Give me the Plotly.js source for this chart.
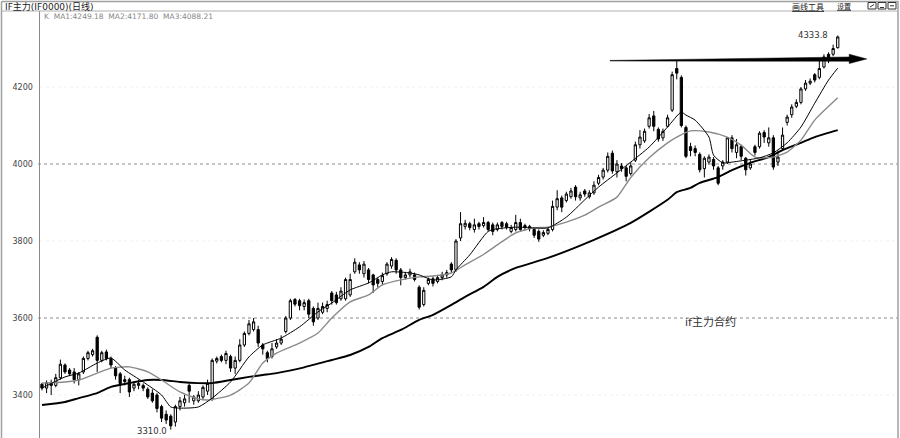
<!DOCTYPE html>
<html>
<head>
<meta charset="utf-8">
<script src="https://cdn.plot.ly/plotly-3.0.1.min.js"></script>
<style>
html,body{margin:0;padding:0;background:#fff;}
#chart{width:900px;height:438px;}
</style>
</head>
<body>
<div id="chart"></div>
<script>
// ---- data (IF主力 daily candles) ----
const openP = [3428,3418,3430,3425,3445,3478,3465,3460,3440,3460,3495,3505,3550,3490,3512,3495,3470,3455,3440,3440,
3418,3425,3425,3415,3405,3400,3370,3350,3345,3330,3370,3380,3425,3385,3385,3395,3410,3390,3488,3500,
3490,3500,3470,3490,3530,3560,3570,3570,3530,3510,3500,3525,3535,3565,3600,3648,3645,3630,3645,3625,
3600,3615,3625,3665,3660,3650,3650,3660,3720,3738,3715,3725,3712,3700,3695,3715,3735,3750,3725,3705,
3712,3712,3680,3635,3690,3702,3695,3705,3712,3740,3725,3808,3838,3845,3830,3845,3840,3848,3842,3830,
3848,3845,3825,3830,3848,3840,3832,3830,3825,3815,3820,3830,3888,3912,3905,3915,3940,3912,3930,3915,
3925,3950,3966,3984,4028,3980,3995,3990,3975,4010,4050,4060,4098,4125,4090,4068,4098,4140,4248,4225,
4095,4045,4040,4025,3988,4005,4012,3990,3995,4005,4068,4030,4045,4015,3990,4045,4045,4082,4055,4068,
4005,4040,4108,4128,4150,4160,4195,4210,4232,4225,4252,4285,4285,4302];
const highP = [3432,3438,3440,3455,3492,3482,3470,3470,3460,3500,3515,3520,3555,3515,3518,3500,3475,3460,3450,3445,
3435,3440,3430,3420,3415,3405,3375,3360,3350,3375,3395,3400,3430,3400,3410,3425,3440,3495,3500,3505,
3515,3505,3500,3545,3565,3595,3600,3580,3535,3515,3535,3545,3555,3605,3650,3652,3650,3648,3650,3630,
3640,3640,3645,3670,3668,3680,3705,3715,3755,3745,3748,3730,3715,3705,3718,3745,3758,3755,3730,3720,
3728,3718,3685,3680,3705,3708,3712,3720,3725,3745,3805,3875,3855,3850,3858,3850,3862,3852,3848,3848,
3852,3850,3842,3868,3858,3845,3842,3835,3830,3828,3835,3905,3932,3918,3928,3938,3945,3928,3935,3932,
3955,3972,3990,4030,4035,4010,4002,3995,4005,4058,4088,4092,4130,4138,4095,4092,4128,4240,4268,4230,
4100,4055,4048,4030,4020,4025,4018,3995,4010,4070,4075,4065,4050,4018,4010,4050,4085,4088,4095,4075,
4035,4095,4128,4155,4168,4200,4218,4222,4236,4268,4285,4290,4310,4333.8];
const lowP = [3412,3405,3400,3420,3440,3455,3450,3430,3425,3455,3490,3500,3460,3485,3490,3470,3440,3405,3425,3395,
3410,3415,3410,3390,3380,3355,3330,3325,3310,3318,3360,3370,3380,3375,3380,3388,3400,3385,3482,3485,
3480,3460,3455,3485,3525,3555,3565,3525,3505,3485,3495,3520,3530,3560,3595,3630,3620,3620,3600,3580,
3595,3610,3615,3635,3635,3645,3645,3655,3715,3715,3705,3690,3665,3680,3685,3710,3728,3715,3685,3700,
3705,3695,3622,3630,3685,3682,3690,3698,3705,3718,3720,3800,3830,3828,3822,3830,3835,3825,3815,3825,
3830,3830,3820,3825,3825,3828,3825,3808,3798,3810,3815,3825,3880,3875,3900,3910,3905,3905,3915,3910,
3920,3945,3960,3978,3975,3965,3980,3955,3970,4005,4040,4055,4092,4085,4058,4060,4095,4135,4220,4095,
4015,4020,4020,3978,3965,3998,3985,3945,3985,4000,4030,4015,4010,3970,3985,4022,4040,4055,4045,3985,
3995,4035,4100,4120,4145,4155,4190,4205,4212,4220,4248,4262,4280,4300];
const closeP = [3418,3432,3425,3445,3480,3460,3455,3440,3455,3495,3510,3515,3490,3510,3495,3478,3450,3430,3435,3408,
3428,3430,3418,3395,3385,3365,3340,3335,3320,3370,3385,3390,3410,3395,3400,3420,3430,3490,3495,3490,
3508,3470,3490,3530,3560,3585,3590,3535,3520,3495,3520,3535,3545,3600,3645,3636,3632,3640,3610,3590,
3625,3630,3635,3645,3640,3670,3700,3700,3745,3725,3740,3700,3686,3690,3710,3740,3752,3725,3705,3712,
3720,3700,3628,3672,3700,3690,3705,3712,3718,3725,3800,3845,3846,3835,3842,3838,3848,3830,3825,3842,
3838,3836,3835,3848,3830,3835,3838,3815,3805,3822,3830,3890,3910,3888,3922,3930,3915,3920,3922,3925,
3945,3965,3984,4020,3982,4000,3988,3968,3995,4050,4070,4085,4120,4098,4065,4085,4120,4232,4236,4100,
4020,4035,4030,3985,4015,4018,3995,3950,4005,4068,4040,4050,4020,3985,4000,4030,4080,4070,4068,3992,
4018,4075,4122,4148,4160,4195,4210,4215,4218,4248,4278,4270,4300,4330];

// moving averages, sampled at candle positions
const ma1Idx = [0,5,8,12,15,18,22,26,28,30,34,37,41,45,48,52,56,60,63,67,71,74,76,80,82,85,89,90,93,97,99,103,107,110,114,118,121,125,128,132,136,139,140,142,145,146,148,150,153,156,159,162,165,168,171,173];
const ma1Val = [3418,3447,3457,3483,3496,3465,3434,3400,3369,3366,3369,3392,3434,3499,3530,3548,3577,3616,3639,3673,3691,3712,3720,3717,3712,3699,3707,3725,3764,3825,3832,3836,3834,3834,3862,3907,3940,3977,4005,4044,4096,4135,4127,4114,4070,4023,4003,4005,4010,4016,4029,4055,4096,4158,4218,4249];
const ma2Idx = [0,5,8,12,15,19,23,26,30,34,36,41,45,48,51,56,60,63,67,71,74,78,82,85,89,92,96,99,103,107,110,114,118,121,125,128,132,136,138,141,145,149,152,155,159,162,165,168,173];
const ma2Val = [3431,3434,3439,3457,3470,3473,3460,3439,3408,3390,3387,3400,3431,3483,3509,3535,3561,3600,3642,3660,3686,3699,3707,3709,3717,3738,3765,3790,3821,3834,3836,3849,3867,3888,3914,3965,4016,4055,4070,4086,4083,4070,4049,4018,4018,4031,4062,4114,4171.8];
const ma3Idx = [0,5,8,12,15,19,23,26,30,34,37,41,45,48,51,57,63,67,71,74,78,82,85,89,92,96,99,103,110,120,128,136,138,141,143,147,150,154,158,161,165,168,173];
const ma3Val = [3374,3382,3392,3405,3421,3431,3439,3439,3434,3431,3431,3439,3447,3452,3457,3472,3491,3504,3525,3548,3569,3595,3608,3634,3655,3681,3707,3730,3756,3803,3847,3907,3927,3938,3951,3966,3984,4003,4018,4036,4055,4070,4088.2];

const yTicks = [3400, 3600, 3800, 4000, 4200];
const yTickText = ['3400', '3600', '3800', '4000', '4200'];
const headerTitle = 'IF主力(IF0000)(日线)';
const maInfo = 'K  MA1:4249.18  MA2:4171.80  MA3:4088.21';
const highLabel = '4333.8';
const lowLabel = '3310.0';
const noteText = 'if主力合约';

// ---- chart ----
const xs = openP.map((_, i) => i);
const FONT = 'DejaVu Sans, Noto Sans CJK SC, sans-serif';

const traces = [
  {
    type: 'candlestick', x: xs, open: openP, high: highP, low: lowP, close: closeP,
    increasing: {line: {color: '#000', width: 1}, fillcolor: '#fff'},
    decreasing: {line: {color: '#000', width: 1}, fillcolor: '#000'},
    whiskerwidth: 0, hoverinfo: 'skip', showlegend: false
  },
  {type: 'scatter', mode: 'lines', x: ma3Idx, y: ma3Val, line: {color: '#000', width: 1.9, shape: 'spline', smoothing: 0.6}, hoverinfo: 'skip'},
  {type: 'scatter', mode: 'lines', x: ma2Idx, y: ma2Val, line: {color: '#8a8a8a', width: 1.4, shape: 'spline', smoothing: 0.6}, hoverinfo: 'skip'},
  {type: 'scatter', mode: 'lines', x: ma1Idx, y: ma1Val, line: {color: '#000', width: 1, shape: 'spline', smoothing: 0.6}, hoverinfo: 'skip'}
];

const W = 858, H = 427, L = 40, T = 11;
const px = v => (v - L) / W;          // pixel x -> paper
const py = v => (T + H - v) / H;      // pixel y -> paper

const last = xs.length - 1;
let lowIdx = 0;
lowP.forEach((v, i) => { if (v < lowP[lowIdx]) lowIdx = i; });
let peakIdx = 0;
highP.forEach((v, i) => { if (i < 150 && v > highP[peakIdx]) peakIdx = i; });
const peakVal = highP[peakIdx];

const shapes = [
  // outer frame
  {type: 'line', xref: 'paper', yref: 'paper', x0: px(1.5), x1: px(898.5), y0: py(1.5), y1: py(1.5), line: {color: '#a0a0a0', width: 1.5}},
  {type: 'line', xref: 'paper', yref: 'paper', x0: px(1.5), x1: px(1.5), y0: py(1.5), y1: 0, line: {color: '#a0a0a0', width: 1.5}},
  {type: 'line', xref: 'paper', yref: 'paper', x0: 1, x1: 1, y0: py(1.5), y1: 0, line: {color: '#a0a0a0', width: 1.5}},
  {type: 'line', xref: 'paper', yref: 'paper', x0: px(1.5), x1: 1, y0: 1, y1: 1, line: {color: '#b0b0b0', width: 1}},
  // grid
  {type: 'line', xref: 'paper', yref: 'y', x0: px(38), x1: 1, y0: 4000, y1: 4000, line: {color: '#8c8c8c', width: 1, dash: '3px,3px'}, layer: 'below'},
  {type: 'line', xref: 'paper', yref: 'y', x0: px(38), x1: 1, y0: 3600, y1: 3600, line: {color: '#8c8c8c', width: 1, dash: '3px,3px'}, layer: 'below'},
  {type: 'line', xref: 'paper', yref: 'y', x0: 0, x1: 1, y0: 4200, y1: 4200, line: {color: '#f1f1f1', width: 1, dash: 'dot'}, layer: 'below'},
  {type: 'line', xref: 'paper', yref: 'y', x0: 0, x1: 1, y0: 3800, y1: 3800, line: {color: '#f1f1f1', width: 1, dash: 'dot'}, layer: 'below'},
  {type: 'line', xref: 'paper', yref: 'y', x0: 0, x1: 1, y0: 3400, y1: 3400, line: {color: '#f1f1f1', width: 1, dash: 'dot'}, layer: 'below'},
  // tapered arrow at the previous high
  {type: 'path', xref: 'x', yref: 'y', fillcolor: '#000', line: {color: '#000', width: 0.5},
   path: `M 123.5 ${peakVal + 1} L 175.5 ${peakVal + 10} L 175.5 ${peakVal + 17} L 179.3 ${peakVal + 5} L 175.5 ${peakVal - 7} L 175.5 ${peakVal - 1} L 123.5 ${peakVal - 0.5} Z`},
  // small toolbar icons
  {type: 'rect', xref: 'paper', yref: 'paper', x0: px(868), x1: px(876), y0: py(9), y1: py(2.5), line: {color: '#333', width: 1}},
  {type: 'rect', xref: 'paper', yref: 'paper', x0: px(878), x1: px(886), y0: py(9), y1: py(2.5), line: {color: '#333', width: 1}},
  {type: 'rect', xref: 'paper', yref: 'paper', x0: px(888), x1: px(896), y0: py(9), y1: py(2.5), line: {color: '#333', width: 1}},
  {type: 'line', xref: 'paper', yref: 'paper', x0: px(870), x1: px(874), y0: py(7), y1: py(4.5), line: {color: '#333', width: 1}},
  {type: 'line', xref: 'paper', yref: 'paper', x0: px(880), x1: px(884), y0: py(7.5), y1: py(7.5), line: {color: '#333', width: 1}},
  {type: 'line', xref: 'paper', yref: 'paper', x0: px(890), x1: px(894), y0: py(5.8), y1: py(5.8), line: {color: '#333', width: 1}}
];

const annotations = [
  {xref: 'paper', yref: 'paper', x: px(3), y: py(6.5), xanchor: 'left', yanchor: 'middle', showarrow: false,
   text: headerTitle, font: {family: FONT, size: 9, color: '#222'}},
  {xref: 'paper', yref: 'paper', x: px(42), y: py(16.5), xanchor: 'left', yanchor: 'middle', showarrow: false,
   text: maInfo, font: {family: FONT, size: 7.5, color: '#888'}},
  {xref: 'paper', yref: 'paper', x: px(826), y: py(6.5), xanchor: 'right', yanchor: 'middle', showarrow: false,
   text: '<u>画线工具</u>', font: {family: FONT, size: 8, color: '#222'}},
  {xref: 'paper', yref: 'paper', x: px(853), y: py(6.5), xanchor: 'right', yanchor: 'middle', showarrow: false,
   text: '<u>设置</u>', font: {family: FONT, size: 7, color: '#222'}},
  {xref: 'x', yref: 'y', x: last, y: highP[last], xanchor: 'right', yanchor: 'middle', xshift: -8, yshift: 0, showarrow: false,
   text: highLabel, font: {family: FONT, size: 8.5, color: '#333'}},
  {xref: 'x', yref: 'y', x: lowIdx, y: lowP[lowIdx], xanchor: 'right', yanchor: 'middle', xshift: -2, yshift: -1, showarrow: false,
   text: lowLabel, font: {family: FONT, size: 8.5, color: '#333'}},
  {xref: 'x', yref: 'y', x: 139.3, y: 3590, xanchor: 'left', yanchor: 'middle', showarrow: false,
   text: noteText, font: {family: FONT, size: 11, color: '#333'}}
];

const layout = {
  width: 900, height: 438,
  margin: {l: L, r: 2, t: T, b: 0, pad: 0},
  paper_bgcolor: '#fff', plot_bgcolor: '#fff',
  showlegend: false, dragmode: false,
  xaxis: {range: [-0.43, 186.1], showgrid: false, zeroline: false, showticklabels: false, ticks: '',
          showline: false, rangeslider: {visible: false}, fixedrange: true},
  yaxis: {range: [3288.4, 4397.4], tickvals: yTicks, ticktext: yTickText, showgrid: false, zeroline: false,
          showline: true, linecolor: '#8a8a8a', linewidth: 1.5, ticks: '', ticklabelstandoff: 4,
          tickfont: {family: FONT, size: 8, color: '#444'}, fixedrange: true},
  shapes: shapes,
  annotations: annotations
};

Plotly.newPlot('chart', traces, layout, {staticPlot: true, displayModeBar: false});
</script>
</body>
</html>
